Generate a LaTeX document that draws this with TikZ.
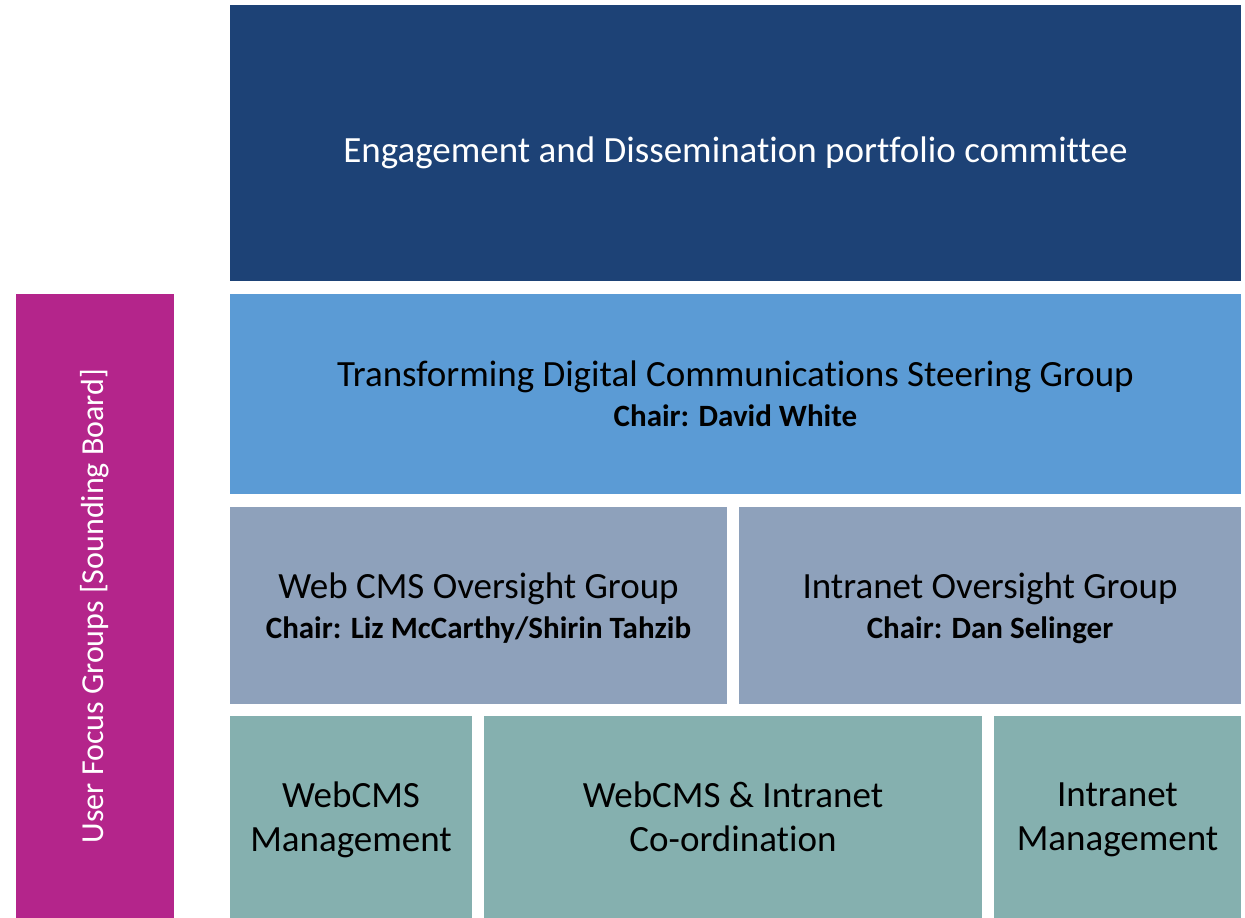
\documentclass[tikz,border=0pt]{standalone}
\usepackage{fontspec}
\setmainfont[Ligatures=NoCommon]{Carlito}
\definecolor{committeeblue}{RGB}{29,66,118}
\definecolor{steeringblue}{RGB}{91,155,213}
\definecolor{oversightgrey}{RGB}{142,161,187}
\definecolor{managementteal}{RGB}{133,176,175}
\definecolor{focusmagenta}{RGB}{180,37,139}
\newcommand{\chairline}[1]{{\bfseries\fontsize{31}{34}\selectfont #1}}

\begin{document}
\begin{tikzpicture}[x=1pt, y=-1pt,
  box/.style={rectangle, inner sep=0pt, align=center, text=black, text depth=0pt,
    font=\fontsize{37}{44}\selectfont}]
\useasboundingbox (0,0) rectangle (1245,918);
% top of the structure
\node[box, fill=committeeblue, text=white, text height=38pt, minimum width=1011pt, minimum height=276pt]
  (committee) at (735.5,143) {Engagement and Dissemination portfolio committee};
\node[box, fill=steeringblue, minimum width=1011pt, minimum height=200pt]
  (steering) at (735.5,394) {Transforming Digital Communications Steering Group\\[-4pt]
  \chairline{Chair: David White}};
% oversight groups
\node[box, fill=oversightgrey, minimum width=497pt, minimum height=197pt]
  (webcms) at (478.5,605.5) {Web CMS Oversight Group\\[-4pt]
  \chairline{Chair: Liz McCarthy/Shirin Tahzib}};
\node[box, fill=oversightgrey, minimum width=502pt, minimum height=197pt]
  (intranet) at (990,605.5) {Intranet Oversight Group\\[-4pt]
  \chairline{Chair: Dan Selinger}};
% management
\node[box, fill=managementteal, minimum width=242pt, minimum height=202pt]
  (webcmsmgmt) at (351,817) {WebCMS\\Management};
\node[box, fill=managementteal, minimum width=498pt, minimum height=202pt]
  (coordination) at (733,817) {WebCMS \& Intranet\\Co-ordination};
\node[box, fill=managementteal, minimum width=247pt, minimum height=202pt]
  (intranetmgmt) at (1117.5,817) {Intranet\\Management};
% side bar
\node[box, fill=focusmagenta, minimum width=158pt, minimum height=624pt]
  (focus) at (94.5,606) {};
\node[text=white, rotate=90, font=\fontsize{32}{38}\selectfont]
  (focuslabel) at (focus.center) {User Focus Groups [Sounding Board]};
\end{tikzpicture}
\end{document}
